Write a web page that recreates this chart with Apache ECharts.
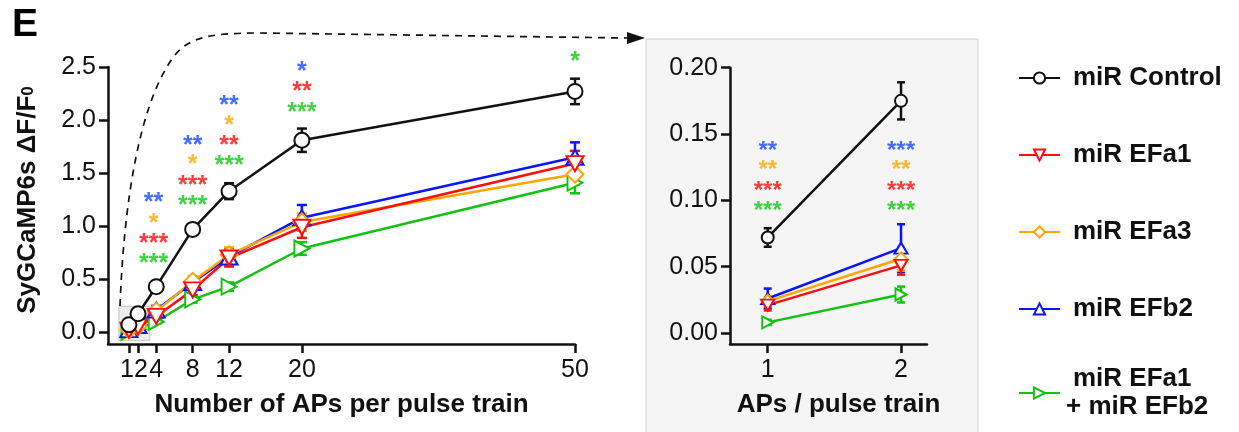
<!DOCTYPE html>
<html>
<head>
<meta charset="utf-8">
<script src="https://cdn.jsdelivr.net/npm/echarts@6.0.0/dist/echarts.min.js"></script>
<style>
  html, body { margin: 0; padding: 0; background: #fff; }
  #chart { width: 1239px; height: 432px; }
</style>
</head>
<body>
<div id="chart"></div>
<script>
// number of APs per train
var apsMain = [1, 2, 4, 8, 12, 20, 50]
var apsZoom = [1, 2]

// mean dF/F0 per group (same order as apsMain)
var miRControl = [0.072, 0.175, 0.43, 0.97, 1.33, 1.81, 2.27]
var miREFa1 = [0.021, 0.051, 0.15, 0.40, 0.70, 0.99, 1.59]
var miREFa3 = [0.024, 0.056, 0.20, 0.48, 0.73, 1.04, 1.49]
var miREFb2 = [0.026, 0.064, 0.21, 0.47, 0.71, 1.08, 1.65]
var miREFa1b2 = [0.008, 0.029, 0.10, 0.31, 0.43, 0.79, 1.41]

// SEM
var miRControlErr = [0.007, 0.014, 0.03, 0.05, 0.075, 0.11, 0.12]
var miREFa1Err = [0.004, 0.007, 0.03, 0.05, 0.08, 0.10, 0.12]
var miREFa3Err = [0.003, 0.009, 0.03, 0.05, 0.07, 0.08, 0.10]
var miREFb2Err = [0.0075, 0.018, 0.04, 0.04, 0.06, 0.12, 0.14]
var miREFa1b2Err = [0.002, 0.006, 0.02, 0.03, 0.04, 0.06, 0.10]

// tick labels
var yTicksMain = [0, 0.5, 1.0, 1.5, 2.0, 2.5]
var yTicksZoom = [0, 0.05, 0.10, 0.15, 0.20]

// significance marks: [x, y, text, colour key]
var starsMain = [
  [3.7, 1.28, '**', 'b'], [3.7, 1.085, '*', 'o'], [3.7, 0.896, '***', 'r'], [3.7, 0.708, '***', 'g'],
  [8, 1.82, '**', 'b'], [8, 1.64, '*', 'o'], [8, 1.443, '***', 'r'], [8, 1.255, '***', 'g'],
  [12, 2.198, '**', 'b'], [12, 2.009, '*', 'o'], [12, 1.821, '**', 'r'], [12, 1.632, '***', 'g'],
  [20, 2.519, '*', 'b'], [20, 2.33, '**', 'r'], [20, 2.132, '***', 'g'],
  [50, 2.613, '*', 'g']
]
var starsZoom = [
  [1, 0.1425, '**', 'b'], [1, 0.1275, '**', 'o'], [1, 0.1124, '***', 'r'], [1, 0.0966, '***', 'g'],
  [2, 0.1425, '***', 'b'], [2, 0.1275, '**', 'o'], [2, 0.1124, '***', 'r'], [2, 0.0966, '***', 'g']
]

var starColors = { b: '#1448ff', o: '#ffa800', r: '#ff0a0a', g: '#0fc80f' }
var FONT = 'Liberation Sans, Arial, sans-serif'

var groups = [
  { name: 'miR EFa1 + miR EFb2', vals: miREFa1b2, err: miREFa1b2Err, color: '#12c212', symbol: 'triangle', rotate: -90, size: [16, 15], sizeZ: [12, 11] },
  { name: 'miR EFb2', vals: miREFb2, err: miREFb2Err, color: '#0a14ff', symbol: 'triangle', rotate: 0, size: [17, 15], sizeZ: [13, 11] },
  { name: 'miR EFa3', vals: miREFa3, err: miREFa3Err, color: '#ffa500', symbol: 'diamond', rotate: 0, size: [17, 17], sizeZ: [12, 13] },
  { name: 'miR EFa1', vals: miREFa1, err: miREFa1Err, color: '#ff0d0d', symbol: 'triangle', rotate: 180, size: [17, 15], sizeZ: [13, 11] },
  { name: 'miR Control', vals: miRControl, err: miRControlErr, color: '#111111', symbol: 'circle', rotate: 0, size: 15, sizeZ: 12 }
]

function errorBars(color, cap) {
  return function (params, api) {
    var x = api.value(0)
    var lo = api.coord([x, api.value(1)])
    var hi = api.coord([x, api.value(2)])
    var st = { stroke: color, lineWidth: 2.5 }
    return {
      type: 'group',
      children: [
        { type: 'line', shape: { x1: lo[0], y1: lo[1], x2: hi[0], y2: hi[1] }, style: st },
        { type: 'line', shape: { x1: lo[0] - cap, y1: lo[1], x2: lo[0] + cap, y2: lo[1] }, style: st },
        { type: 'line', shape: { x1: hi[0] - cap, y1: hi[1], x2: hi[0] + cap, y2: hi[1] }, style: st }
      ]
    }
  }
}

var series = []
groups.forEach(function (g) {
  [0, 1].forEach(function (p) {
    var xs = p === 0 ? apsMain : apsZoom
    var pts = xs.map(function (x, i) { return [x, g.vals[i]] })
    var bars = xs.map(function (x, i) { return [x, g.vals[i] - g.err[i], g.vals[i] + g.err[i]] })
    series.push({
      type: 'custom',
      name: g.name + ' err',
      xAxisIndex: p,
      yAxisIndex: p,
      z: 1,
      silent: true,
      renderItem: errorBars(g.color, p === 0 ? 5 : 4),
      encode: { x: 0, y: [1, 2] },
      data: bars
    })
    var s = {
      type: 'line',
      name: g.name,
      xAxisIndex: p,
      yAxisIndex: p,
      data: pts,
      symbol: g.symbol,
      symbolRotate: g.rotate,
      symbolSize: p === 0 ? g.size : g.sizeZ,
      showAllSymbol: true,
      lineStyle: { color: g.color, width: 2.5 },
      itemStyle: { color: '#fff', borderColor: g.color, borderWidth: 2 }
    }
    if (p === 0 && g.name === 'miR EFa1 + miR EFb2') {
      s.markArea = {
        silent: true,
        itemStyle: { color: '#ececec', borderColor: '#c4c4c4', borderWidth: 1 },
        data: [[{ coord: [-0.1, -0.075] }, { coord: [3.3, 0.245] }]]
      }
    }
    series.push(s)
  })
})

function starSeries(list, p, fontSize) {
  return {
    type: 'scatter',
    xAxisIndex: p,
    yAxisIndex: p,
    clip: false,
    silent: true,
    symbolSize: 1,
    itemStyle: { color: 'rgba(255,255,255,0)' },
    z: 5,
    data: list.map(function (d) {
      return {
        value: [d[0], d[1]],
        label: { formatter: d[2], color: starColors[d[3]] }
      }
    }),
    label: {
      show: true,
      position: 'inside',
      fontSize: fontSize,
      fontWeight: 'bold',
      fontFamily: FONT,
      offset: [0, 7]
    }
  }
}
series.push(starSeries(starsMain, 0, 25))
series.push(starSeries(starsZoom, 1, 24))

var axisCommon = {
  axisLine: { onZero: false, lineStyle: { color: '#111', width: 2.5 } },
  axisTick: { length: 9, lineStyle: { color: '#111', width: 2.5 } },
  splitLine: { show: false },
  axisLabel: { color: '#111', fontSize: 25, fontFamily: FONT, margin: 12, hideOverlap: false, showMinLabel: true, showMaxLabel: true }
}

function axis(extra) {
  return echarts.util.merge(echarts.util.clone(axisCommon), extra, true)
}

var tickFont = { fontSize: 25, fontFamily: FONT, color: '#111' }
var dash = { fill: null, stroke: '#111', lineWidth: 1.7, lineDash: [7, 6] }

var option = {
  animation: false,
  backgroundColor: '#fff',
  grid: [
    { left: 108, top: 67, width: 467, height: 277 },
    { left: 730, top: 67.7, width: 197, height: 276.3 }
  ],
  xAxis: [
    axis({
      type: 'value', gridIndex: 0, min: -1.3, max: 50,
      axisTick: { customValues: apsMain },
      // an empty label at 0 goes first, so the min/max overlap check does not drop the close "1" / "2"
      axisLabel: {
        customValues: [0].concat(apsMain),
        margin: 14,
        formatter: function (v) {
          if (v === 0) return ''
          if (v === 1) return '{one|1}'
          if (v === 2) return '{two|2}'
          return String(v)
        },
        rich: {
          one: echarts.util.extend({ padding: [0, 4, 0, 0] }, tickFont),
          two: echarts.util.extend({ padding: [0, 0, 0, 6] }, tickFont)
        }
      },
      name: 'Number of APs per pulse train',
      nameLocation: 'middle',
      nameGap: 48,
      nameTextStyle: { fontSize: 26, fontWeight: 'bold', color: '#111', fontFamily: FONT }
    }),
    axis({
      type: 'value', gridIndex: 1, min: 0.717, max: 2.195,
      axisTick: { customValues: apsZoom },
      axisLabel: { customValues: apsZoom, margin: 14 },
      name: 'APs / pulse train',
      nameLocation: 'middle',
      nameGap: 48,
      nameTextStyle: { fontSize: 26, fontWeight: 'bold', color: '#111', fontFamily: FONT, padding: [0, 0, 0, 20] }
    })
  ],
  yAxis: [
    axis({
      type: 'value', gridIndex: 0, min: -0.11, max: 2.5,
      axisTick: { customValues: yTicksMain },
      axisLabel: { customValues: yTicksMain, formatter: function (v) { return v.toFixed(1) } }
    }),
    axis({
      type: 'value', gridIndex: 1, min: -0.0083, max: 0.2,
      axisTick: { customValues: yTicksZoom },
      axisLabel: { customValues: yTicksZoom, formatter: function (v) { return v.toFixed(2) } }
    })
  ],
  legend: [
    {
      data: ['miR Control', 'miR EFa1', 'miR EFa3', 'miR EFb2'],
      orient: 'vertical',
      left: 1013,
      top: 59,
      itemGap: 49,
      itemWidth: 41,
      itemHeight: 14,
      selectedMode: false,
      textStyle: { fontSize: 26, fontWeight: 'bold', color: '#111', fontFamily: FONT, lineHeight: 28, padding: [0, 0, 0, 8] }
    },
    {
      data: ['miR EFa1 + miR EFb2'],
      orient: 'vertical',
      left: 1013,
      top: 360,
      itemWidth: 41,
      itemHeight: 14,
      selectedMode: false,
      formatter: function () { return '{a|miR EFa1}\n{b|+ miR EFb2}' },
      textStyle: {
        fontSize: 26, fontWeight: 'bold', color: '#111', fontFamily: FONT, lineHeight: 28, padding: [0, 0, 0, 1],
        rich: {
          a: { fontSize: 26, fontWeight: 'bold', color: '#111', fontFamily: FONT, lineHeight: 28, padding: [0, 0, 0, 7] },
          b: { fontSize: 26, fontWeight: 'bold', color: '#111', fontFamily: FONT, lineHeight: 28 }
        }
      }
    }
  ],
  graphic: [
    {
      type: 'rect', z: -10, silent: true,
      shape: { x: 646, y: 39, width: 332, height: 420 },
      style: { fill: '#f5f5f5', stroke: '#cfcfcf', lineWidth: 1 }
    },
    {
      type: 'bezierCurve', z: 10, silent: true,
      shape: { x1: 120, y1: 306, cpx1: 124, cpy1: 200, cpx2: 140, cpy2: 100, x2: 175, y2: 55 },
      style: dash
    },
    {
      type: 'bezierCurve', z: 10, silent: true,
      shape: { x1: 175, y1: 55, cpx1: 190, cpy1: 36, cpx2: 215, cpy2: 33, x2: 260, y2: 33 },
      style: dash
    },
    {
      type: 'line', z: 10, silent: true,
      shape: { x1: 260, y1: 33, x2: 627, y2: 38 },
      style: dash
    },
    {
      type: 'polygon', z: 10, silent: true,
      shape: { points: [[627, 32], [645, 38], [627, 44]] },
      style: { fill: '#111' }
    },
    {
      type: 'text', silent: true, x: 12, y: 6,
      style: { text: 'E', font: 'bold 39px ' + FONT, fill: '#000' }
    },
    {
      type: 'text', silent: true, x: 28, y: 200, rotation: Math.PI / 2,
      style: {
        text: '{m|SyGCaMP6s ΔF/F}{s|0}',
        align: 'center',
        verticalAlign: 'middle',
        rich: {
          m: { fontSize: 26, fontWeight: 'bold', fontFamily: FONT, fill: '#111', verticalAlign: 'top', height: 34 },
          s: { fontSize: 17, fontWeight: 'bold', fontFamily: FONT, fill: '#111', verticalAlign: 'bottom', height: 34 }
        }
      }
    }
  ],
  series: series
}

var chart = echarts.init(document.getElementById('chart'))
chart.setOption(option)
</script>
</body>
</html>
